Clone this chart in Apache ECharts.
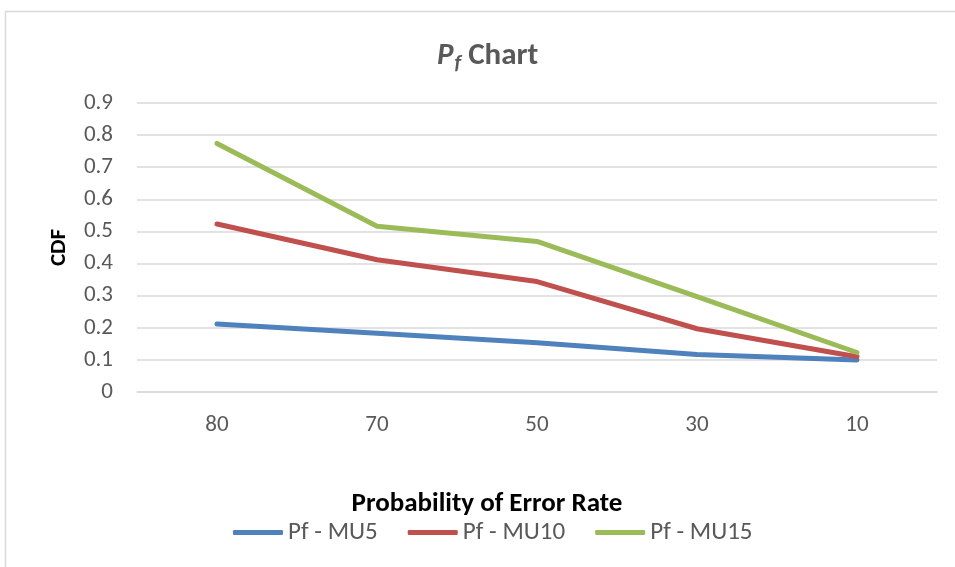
<!DOCTYPE html>
<html>
<head>
<meta charset="utf-8">
<script src="https://cdn.jsdelivr.net/npm/echarts@6/dist/echarts.min.js"></script>
<style>
  html, body { margin: 0; padding: 0; background: #fff; }
  #chart { width: 955px; height: 567px; }
</style>
</head>
<body>
<div id="chart"></div>
<script>
// Error-rate categories along the x axis
const categories = ['80', '70', '50', '30', '10'];

// CDF values per MU setting
const seriesNames = ['Pf - MU5', 'Pf - MU10', 'Pf - MU15'];
const mu5  = [0.212, 0.183, 0.153, 0.117, 0.100];
const mu10 = [0.523, 0.412, 0.344, 0.197, 0.110];
const mu15 = [0.774, 0.516, 0.469, 0.297, 0.123];

const colors = ['#4F81BD', '#C0504D', '#9BBB59'];
const font = 'Carlito, "Liberation Sans", Arial, sans-serif';

const chart = echarts.init(document.getElementById('chart'), null, { renderer: 'canvas' });

const lineSeries = [mu5, mu10, mu15].map((data, i) => ({
  name: seriesNames[i],
  type: 'line',
  data: data,
  symbol: 'none',
  smooth: false,
  lineStyle: { width: 5, color: colors[i], cap: 'round', join: 'round' },
  itemStyle: { color: colors[i] }
}));

chart.setOption({
  backgroundColor: '#ffffff',
  animation: false,
  title: {
    text: '{p|P}{f|f}{t| Chart}',
    left: 432,
    top: 33,
    textStyle: {
      rich: {
        p: { fontFamily: font, fontSize: 31, fontWeight: 'bold', fontStyle: 'italic', color: '#595959' },
        f: { fontFamily: font, fontSize: 21, fontWeight: 'bold', fontStyle: 'italic', color: '#595959', verticalAlign: 'bottom', padding: [15, 0, 0, 1] },
        t: { fontFamily: font, fontSize: 31, fontWeight: 'bold', color: '#595959' }
      }
    }
  },
  legend: {
    data: seriesNames,
    bottom: 17,
    left: 228,
    icon: 'roundRect',
    itemWidth: 50,
    itemHeight: 5,
    itemGap: 30,
    textStyle: { fontFamily: font, fontSize: 25, color: '#595959' }
  },
  graphic: [{
    type: 'rect',
    shape: { x: 5.5, y: 11.5, width: 1000, height: 600 },
    style: { fill: 'none', stroke: '#D9D9D9', lineWidth: 1.5 },
    silent: true
  }],
  grid: { left: 137, right: 18, top: 103, bottom: 175 },
  xAxis: {
    type: 'category',
    data: categories,
    boundaryGap: true,
    name: 'Probability of Error Rate',
    nameLocation: 'middle',
    nameGap: 99,
    nameTextStyle: { fontFamily: font, fontSize: 27, fontWeight: 'bold', color: '#000000', padding: [0, 100, 0, 0] },
    axisLine: { show: true, lineStyle: { color: '#D9D9D9', width: 1.5 } },
    axisTick: { show: false },
    axisLabel: { fontFamily: font, fontSize: 23, color: '#595959', margin: 22 }
  },
  yAxis: {
    type: 'value',
    min: 0,
    max: 0.9,
    interval: 0.1,
    name: 'CDF',
    nameLocation: 'middle',
    nameRotate: 90,
    nameGap: 66,
    nameTextStyle: { fontFamily: font, fontSize: 23, fontWeight: 'bold', color: '#000000' },
    axisLine: { show: false },
    axisTick: { show: false },
    splitLine: { show: true, lineStyle: { color: '#D9D9D9', width: 1.5 } },
    axisLabel: { fontFamily: font, fontSize: 23, color: '#595959', margin: 24 }
  },
  series: lineSeries
});
</script>
</body>
</html>
